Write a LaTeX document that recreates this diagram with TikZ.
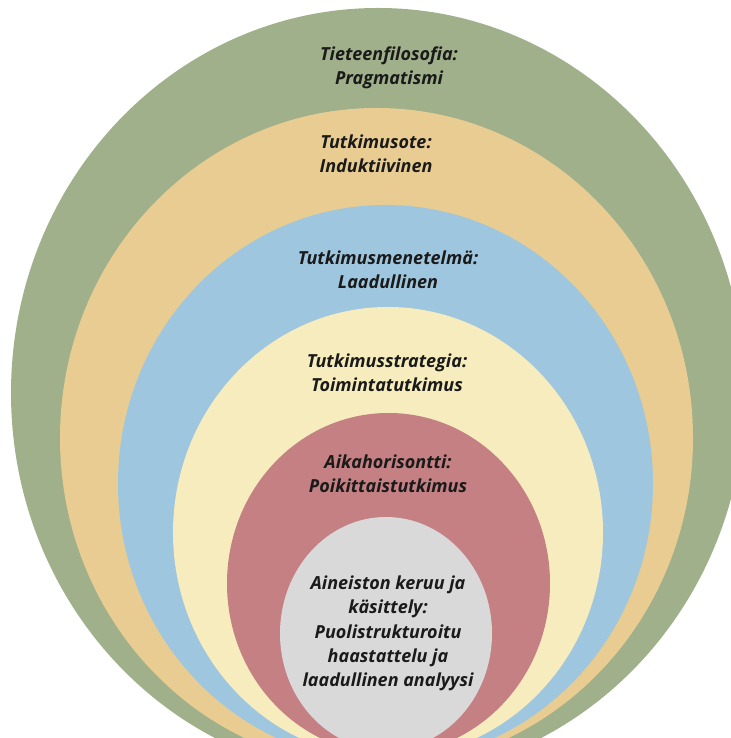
\documentclass[tikz,border=0pt]{standalone}
\usepackage{fontspec}
\setmainfont{Open Sans}
\definecolor{layerGreen}{HTML}{A0B08A}
\definecolor{layerTan}{HTML}{E8CC92}
\definecolor{layerBlue}{HTML}{9EC6DE}
\definecolor{layerCream}{HTML}{F6ECBE}
\definecolor{layerRose}{HTML}{C48082}
\definecolor{layerGrey}{HTML}{D9D9D9}
\definecolor{labelInk}{HTML}{1A1A1A}
\tikzset{
  layerlabel/.style={align=center, text=labelInk, inner sep=0pt,
    font=\fontsize{9}{12.2}\selectfont\bfseries\itshape}
}
\begin{document}
\begin{tikzpicture}[x=0.5pt, y=0.5pt]
  \useasboundingbox (0,0) rectangle (731,738);
  \fill[white] (0,0) rectangle (731,738);
  \clip (0,0) rectangle (731,738);
  % nested layers, outermost first
  \fill[layerGreen] (378,345)     ellipse [x radius=367,   y radius=385];
  \fill[layerTan]   (376.5,300)   ellipse [x radius=316.5, y radius=330];
  \fill[layerBlue]  (385.5,254.5) ellipse [x radius=267.5, y radius=278.5];
  \fill[layerCream] (388,205.5)   ellipse [x radius=215,   y radius=225.5];
  \fill[layerRose]  (388.5,154.5) ellipse [x radius=161.5, y radius=170.5];
  \fill[layerGrey]  (386,104.5)   ellipse [x radius=106,   y radius=116.5];
  % labels
  \node[layerlabel] (philosophy) at (389,670.5) {Tieteenfilosofia:\\Pragmatismi};
  \node[layerlabel] (approach)   at (376,584)   {Tutkimusote:\\Induktiivinen};
  \node[layerlabel] (method)     at (388,468)   {Tutkimusmenetelmä:\\Laadullinen};
  \node[layerlabel] (strategy)   at (387,365.5) {Tutkimusstrategia:\\Toimintatutkimus};
  \node[layerlabel] (horizon)    at (388,264.5) {Aikahorisontti:\\Poikittaistutkimus};
  \node[layerlabel] (data)       at (388,104.5) {Aineiston keruu ja\\käsittely:\\Puolistrukturoitu\\haastattelu ja\\laadullinen analyysi};
\end{tikzpicture}
\end{document}
